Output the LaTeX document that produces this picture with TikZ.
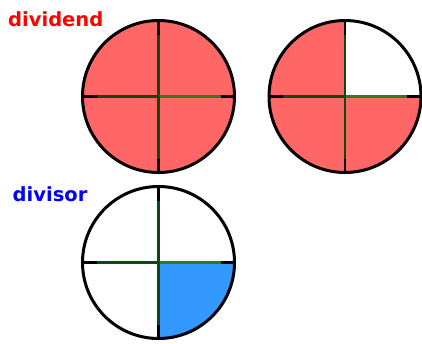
\documentclass[tikz,border=0pt]{standalone}
\usepackage{fontspec}
\setmainfont{DejaVu Sans}
\definecolor{pie}{HTML}{FF6666}
\definecolor{piblue}{HTML}{3399FF}
\definecolor{dgreen}{HTML}{0E4A0E}
\definecolor{lgreen}{HTML}{2F7A1F}
\begin{document}
\begin{tikzpicture}[x=1pt,y=-1pt,
  rim/.style={draw=black,line width=3pt},
  axis/.style={draw=black,line width=2.5pt},
  gdark/.style={draw=dgreen,line width=2.5pt},
  glight/.style={draw=lgreen,line width=2.5pt},
  lbl/.style={font=\bfseries\fontsize{19.5}{20}\selectfont,anchor=base west,inner sep=0pt}]
\useasboundingbox (0,0) rectangle (422,343);
\def\R{76}
\def\G{62}
\coordinate (c1) at (158.5,96.5);
\coordinate (c2) at (345,96.5);
\coordinate (c3) at (158.5,262.5);
% fills
\fill[pie] (c1) circle (\R);
\fill[pie] (c2) circle (\R);
\fill[white] (c2) -- ([xshift=\R]c2) arc[start angle=0,end angle=-90,radius=\R] -- cycle;
\fill[piblue] (c3) -- ([xshift=\R]c3) arc[start angle=0,end angle=90,radius=\R] -- cycle;
% axes and rims
\foreach \c in {c1,c2,c3}{
  \draw[axis] ([xshift=-\R]\c) -- ([xshift=\R]\c);
  \draw[axis] ([yshift=-\R]\c) -- ([yshift=\R]\c);
  \draw[gdark] ([xshift=-\G]\c) -- (\c);
  \draw[glight] (\c) -- ([xshift=\G]\c);
  \draw[gdark] ([yshift=-\G]\c) -- ([yshift=\G]\c);
  \draw[rim] (\c) circle (\R);
}
\node[lbl,text=red] (dividend) at (8,26) {dividend};
\node[lbl,text=blue] (divisor) at (12.5,201.5) {divisor};
\end{tikzpicture}
\end{document}
